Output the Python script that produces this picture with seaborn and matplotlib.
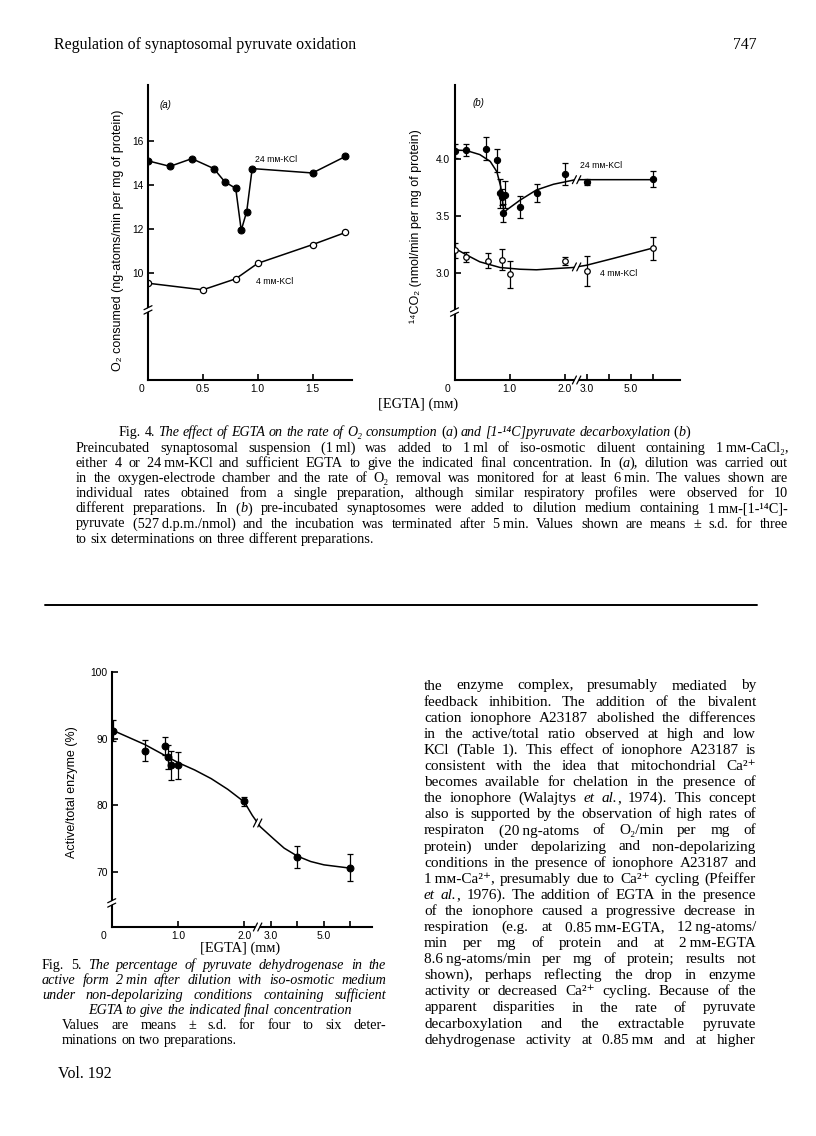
import numpy as np
import matplotlib
matplotlib.use("Agg")
import matplotlib.pyplot as plt
from matplotlib.lines import Line2D
from matplotlib.transforms import IdentityTransform
import seaborn as sns

# page size in pixels
W, H = 816, 1136

# Fig. 4(a): O2 consumption, single preparation
a_egta_24 = [0.0, 0.2, 0.4, 0.6, 0.7, 0.8, 0.85, 0.9, 0.95, 1.5, 1.8]
a_o2_24 = [15.1, 14.85, 15.2, 14.75, 14.15, 13.85, 11.95, 12.8, 14.75, 14.55, 15.3]
a_egta_4 = [0.0, 0.5, 0.8, 1.0, 1.5, 1.8]
a_o2_4 = [9.55, 9.25, 9.75, 10.45, 11.3, 11.85]

# Fig. 4(b): 14CO2 production, means +/- s.d.
b_egta_24 = [0.0, 0.2, 0.57, 0.78, 0.83, 0.86, 0.92, 0.89, 1.19, 1.5, 2.0, 3.0, 6.0]
b_co2_24 = [4.07, 4.08, 4.09, 3.99, 3.70, 3.67, 3.69, 3.53, 3.58, 3.70, 3.87, 3.80, 3.83]
b_sd_24 = [0.06, 0.05, 0.10, 0.10, 0.13, 0.07, 0.12, 0.08, 0.10, 0.08, 0.10, 0.03, 0.07]
b_egta_4 = [0.0, 0.2, 0.6, 0.86, 1.0, 2.0, 3.0, 6.0]
b_co2_4 = [3.20, 3.14, 3.11, 3.12, 2.99, 3.11, 3.02, 3.22]
b_sd_4 = [0.065, 0.045, 0.065, 0.09, 0.12, 0.035, 0.13, 0.10]
# hand-drawn fitted curves
b_fit24_x = [0.0, 0.22, 0.46, 0.65, 0.77, 0.84, 0.9, 0.95, 1.19, 1.49, 1.8, 2.0, 2.5, 3.0, 6.0]
b_fit24_y = [4.08, 4.075, 4.04, 3.98, 3.89, 3.76, 3.53, 3.555, 3.64, 3.73, 3.78, 3.80, 3.82, 3.82, 3.82]
b_fit4_x = [0.0, 0.22, 0.46, 0.83, 1.19, 1.49, 1.8, 2.38, 3.0, 4.22, 6.0]
b_fit4_y = [3.22, 3.16, 3.10, 3.05, 3.035, 3.03, 3.04, 3.05, 3.07, 3.13, 3.22]

# Fig. 5: active/total pyruvate dehydrogenase
f5_egta = [0.02, 0.5, 0.8, 0.85, 0.9, 1.0, 2.0, 4.0, 6.0]
f5_active = [91.2, 88.2, 88.9, 87.3, 86.0, 86.0, 80.6, 72.3, 70.7]
f5_sd = [1.5, 1.55, 1.3, 1.8, 2.2, 2.0, 0.7, 1.6, 2.0]
f5_fit_x = [0.0, 0.5, 1.0, 1.25, 1.5, 1.75, 2.0, 2.3, 2.6, 3.1, 3.5, 4.0, 4.5, 5.0, 6.0]
f5_fit_y = [91.3, 89.1, 86.4, 85.3, 84.0, 82.4, 80.5, 78.5, 76.8, 75.0, 73.6, 72.4, 71.6, 71.1, 70.6]

SERIF = ["Liberation Serif", "DejaVu Serif", "DejaVu Sans"]
SANS = ["Liberation Sans", "DejaVu Sans"]

sns.set_style("ticks", {"axes.edgecolor": "black", "text.color": "black",
                        "xtick.color": "black", "ytick.color": "black",
                        "axes.labelcolor": "black"})
plt.rcParams["font.family"] = SANS

fig = plt.figure(figsize=(W / 100, H / 100), dpi=100)
fig.patch.set_facecolor("white")
renderer = fig.canvas.get_renderer()


def make_axes(x0, x1, y0, y1):
    ax = fig.add_axes([x0 / W, 1 - y1 / H, (x1 - x0) / W, (y1 - y0) / H])
    ax.set_facecolor("none")
    sns.despine(ax=ax)
    for side in ["left", "bottom"]:
        ax.spines[side].set_linewidth(1.5)
    ax.tick_params(direction="in", length=4, width=1.2, labelsize=7.4, pad=3)
    return ax


# broken x scale: 0-2 mM linear, compressed above 2 mM
def fwd(x):
    x = np.asarray(x, dtype=float)
    return np.where(x <= 2, x, 2 + 0.4 * (x - 2))


def inv(t):
    t = np.asarray(t, dtype=float)
    return np.where(t <= 2, t, 2 + (t - 2) / 0.4)


def slashes(ax, x, y, spine="x", size=4.0, sep=2.2):
    px, py = ax.transData.transform((x, y))
    if spine == "y":
        d = np.array([size, size * 0.5])
        o = np.array([0.0, sep])
    else:
        d = np.array([size * 0.5, size])
        o = np.array([sep, 0.0])
    c = np.array([px, py])
    idt = IdentityTransform()
    fig.add_artist(Line2D([c[0] - d[0], c[0] + d[0]], [c[1] - d[1], c[1] + d[1]],
                          transform=idt, color="white", lw=2.4, zorder=6))
    for s in (-1, 1):
        p = c + s * o
        fig.add_artist(Line2D([p[0] - d[0], p[0] + d[0]], [p[1] - d[1], p[1] + d[1]],
                              transform=idt, color="black", lw=0.9, zorder=7))


def zero_label(ax, dx):
    ax.annotate("0", xy=(0, 0), xycoords=("data", "axes fraction"),
                xytext=(dx, -3), textcoords="offset points",
                ha="center", va="top", fontsize=7.4)


def page_text(x, y, s, size, family=SANS, **kw):
    return fig.text(x / W, 1 - y / H, s, fontsize=size, family=family, **kw)


# ---------------- Fig. 4(a) ----------------
ax_a = make_axes(148, 352, 85, 380)
sns.lineplot(x=a_egta_24, y=a_o2_24, ax=ax_a, sort=False, estimator=None,
             color="black", lw=1.1, marker="o", markersize=5,
             markerfacecolor="black", markeredgecolor="black")
sns.lineplot(x=a_egta_4, y=a_o2_4, ax=ax_a, sort=False, estimator=None,
             color="black", lw=1.1, marker="o", markersize=4.5,
             markerfacecolor="white", markeredgecolor="black", markeredgewidth=0.9)
ax_a.set_xlim(0, 1.86)
ax_a.set_ylim(5.16, 18.54)
ax_a.set_xticks([0, 0.5, 1.0, 1.5], ["", "0.5", "1.0", "1.5"])
ax_a.set_yticks([10, 12, 14, 16], ["10", "12", "14", "16"])
ax_a.set_xlabel("")
ax_a.set_ylabel("O₂ consumed (ng-atoms/min per mg of protein)", fontsize=9)
ax_a.yaxis.set_label_coords(-0.118, 0.475)
zero_label(ax_a, -5)
slashes(ax_a, 0, 8.34, spine="y")

# ---------------- Fig. 4(b) ----------------
ax_b = make_axes(454.5, 680, 85, 380)
sns.lineplot(x=b_fit24_x, y=b_fit24_y, ax=ax_b, sort=False, estimator=None,
             color="black", lw=1.1)
sns.lineplot(x=b_fit4_x, y=b_fit4_y, ax=ax_b, sort=False, estimator=None,
             color="black", lw=1.1)
ax_b.errorbar(b_egta_24, b_co2_24, yerr=b_sd_24, fmt="none", ecolor="black",
              elinewidth=0.9, capsize=2.2, capthick=0.9, zorder=2.5)
ax_b.errorbar(b_egta_4, b_co2_4, yerr=b_sd_4, fmt="none", ecolor="black",
              elinewidth=0.9, capsize=2.2, capthick=0.9, zorder=2.5)
sns.scatterplot(x=b_egta_24, y=b_co2_24, ax=ax_b, s=20, color="black",
                edgecolor="black", linewidth=0.8, zorder=3)
sns.scatterplot(x=b_egta_4, y=b_co2_4, ax=ax_b, s=16, color="white",
                edgecolor="black", linewidth=0.9, zorder=3)
ax_b.set_xscale("function", functions=(fwd, inv))
ax_b.set_xlim(0, 7.25)
ax_b.set_ylim(2.064, 4.65)
ax_b.set_xticks([0, 1, 2, 3, 4, 5, 6], ["", "1.0", "2.0", "3.0", "", "5.0", ""])
ax_b.set_yticks([3.0, 3.5, 4.0], ["3.0", "3.5", "4.0"])
ax_b.set_xlabel("")
ax_b.set_ylabel("¹⁴CO₂ (nmol/min per mg of protein)", fontsize=9)
ax_b.yaxis.set_label_coords(-0.144, 0.522)
zero_label(ax_b, -5)
slashes(ax_b, 0, 2.66, spine="y")
slashes(ax_b, 2.55, 2.064, spine="x")
slashes(ax_b, 2.55, float(np.interp(2.55, b_fit24_x, b_fit24_y)), spine="x")
slashes(ax_b, 2.55, float(np.interp(2.55, b_fit4_x, b_fit4_y)), spine="x")

# panel and curve labels
page_text(165, 105, "(a)", 7, ha="center", va="center", style="italic")
page_text(478, 103, "(b)", 7, ha="center", va="center", style="italic")
page_text(255, 159, "24 mᴍ-KCl", 6.2, ha="left", va="center")
page_text(256, 281, "4 mᴍ-KCl", 6.2, ha="left", va="center")
page_text(580, 165, "24 mᴍ-KCl", 6.2, ha="left", va="center")
page_text(600, 273, "4 mᴍ-KCl", 6.2, ha="left", va="center")
page_text(418, 404, "[EGTA] (mᴍ)", 10.4, family=SERIF, ha="center", va="center")

# ---------------- Fig. 5 ----------------
ax_5 = make_axes(111.7, 371.7, 671.7, 927)
sns.lineplot(x=f5_fit_x, y=f5_fit_y, ax=ax_5, sort=False, estimator=None,
             color="black", lw=1.1)
ax_5.errorbar(f5_egta, f5_active, yerr=f5_sd, fmt="none", ecolor="black",
              elinewidth=0.9, capsize=2.2, capthick=0.9, zorder=2.5)
sns.scatterplot(x=f5_egta, y=f5_active, ax=ax_5, s=24, color="black",
                edgecolor="black", linewidth=0.8, zorder=3)
ax_5.set_xscale("function", functions=(fwd, inv))
ax_5.set_xlim(0, 6.8)
ax_5.set_ylim(61.8, 100)
ax_5.set_xticks([0, 1, 2, 3, 4, 5, 6], ["", "1.0", "2.0", "3.0", "", "5.0", ""])
ax_5.set_yticks([70, 80, 90, 100], ["70", "80", "90", "100"])
ax_5.set_xlabel("")
ax_5.set_ylabel("Active/total enzyme (%)", fontsize=9)
ax_5.yaxis.set_label_coords(-0.13, 0.529)
zero_label(ax_5, -6)
slashes(ax_5, 0, 65.4, spine="y")
slashes(ax_5, 2.5, 61.8, spine="x")
slashes(ax_5, 2.5, float(np.interp(2.5, f5_fit_x, f5_fit_y)), spine="x")
page_text(240, 948, "[EGTA] (mᴍ)", 10.4, family=SERIF, ha="center", va="center")


# ---------------- running text ----------------
def space_width(size):
    a = fig.text(0, 0, "n n", fontsize=size, family=SERIF)
    b = fig.text(0, 0, "nn", fontsize=size, family=SERIF)
    w = a.get_window_extent(renderer).width - b.get_window_extent(renderer).width
    a.remove()
    b.remove()
    return w


def build_words(line, base, size):
    italic = False
    words = []
    for word in line.split(" "):
        pieces = []
        for i, part in enumerate(word.split("*")):
            if i > 0:
                italic = not italic
            if part:
                t = fig.text(0, 1 - base / H, part, fontsize=size, family=SERIF,
                             style="italic" if italic else "normal",
                             va="baseline", ha="left")
                pieces.append((t, t.get_window_extent(renderer).width))
        words.append(pieces)
    return words


def write_line(line, x0, x1, base, size, justify=True):
    words = build_words(line, base, size)
    total = sum(w for p in words for _, w in p)
    n = len(words)
    if justify and n > 1:
        min_gap = 0.6 * space_width(size)
        if total + (n - 1) * min_gap > x1 - x0:
            # too long for the measure: shrink the type slightly
            for p in words:
                for t, _ in p:
                    t.remove()
            size = size * (x1 - x0 - (n - 1) * min_gap) / total
            words = build_words(line, base, size)
            total = sum(w for p in words for _, w in p)
        gap = (x1 - x0 - total) / (n - 1)
    else:
        gap = space_width(size)
    x = x0
    for pieces in words:
        for t, w in pieces:
            t.set_x(x / W)
            x += w
        x += gap


fig.text(54 / W, 1 - 49 / H, "Regulation of synaptosomal pyruvate oxidation",
         fontsize=11.4, family=SERIF, va="baseline")
fig.text(757 / W, 1 - 49 / H, "747", fontsize=11.4, family=SERIF,
         va="baseline", ha="right")

fig4_title = ("Fig. 4. *The effect of EGTA on the rate of O₂ consumption* (*a*) "
              "*and [1-¹⁴C]pyruvate decarboxylation* (*b*)")
fig4_body = [
    "Preincubated synaptosomal suspension (1\u2009ml) was added to 1\u2009ml of iso-osmotic diluent containing 1\u2009mᴍ-CaCl₂,",
    "either 4 or 24\u2009mᴍ-KCl and sufficient EGTA to give the indicated final concentration. In (*a*), dilution was carried out",
    "in the oxygen-electrode chamber and the rate of O₂ removal was monitored for at least 6\u2009min. The values shown are",
    "individual rates obtained from a single preparation, although similar respiratory profiles were observed for 10",
    "different preparations. In (*b*) pre-incubated synaptosomes were added to dilution medium containing 1\u2009mᴍ-[1-¹⁴C]-",
    "pyruvate (527\u2009d.p.m./nmol) and the incubation was terminated after 5\u2009min. Values shown are means ± s.d. for three",
    "to six determinations on three different preparations.",
]
write_line(fig4_title, 119, 700, 436, 10.1, justify=False)
for k, line in enumerate(fig4_body):
    write_line(line, 76, 788, 452 + 15.1 * k, 10.3, justify=k < len(fig4_body) - 1)

fig.add_artist(Line2D([45 / W, 757 / W], [1 - 605 / H] * 2, color="black", lw=1.4))

column = [
    "the enzyme complex, presumably mediated by",
    "feedback inhibition. The addition of the bivalent",
    "cation ionophore A23187 abolished the differences",
    "in the active/total ratio observed at high and low",
    "KCl (Table 1). This effect of ionophore A23187 is",
    "consistent with the idea that mitochondrial Ca²⁺",
    "becomes available for chelation in the presence of",
    "the ionophore (Walajtys *et al.*, 1974). This concept",
    "also is supported by the observation of high rates of",
    "respiraton (20\u2009ng-atoms of O₂/min per mg of",
    "protein) under depolarizing and non-depolarizing",
    "conditions in the presence of ionophore A23187 and",
    "1\u2009mᴍ-Ca²⁺, presumably due to Ca²⁺ cycling (Pfeiffer",
    "*et al.*, 1976). The addition of EGTA in the presence",
    "of the ionophore caused a progressive decrease in",
    "respiration (e.g. at 0.85\u2009mᴍ-EGTA, 12\u2009ng-atoms/",
    "min per mg of protein and at 2\u2009mᴍ-EGTA",
    "8.6\u2009ng-atoms/min per mg of protein; results not",
    "shown), perhaps reflecting the drop in enzyme",
    "activity or decreased Ca²⁺ cycling. Because of the",
    "apparent disparities in the rate of pyruvate",
    "decarboxylation and the extractable pyruvate",
    "dehydrogenase activity at 0.85\u2009mᴍ and at higher",
]
for k, line in enumerate(column):
    write_line(line, 424, 756, 689.5 + 16.1 * k, 11.0)

write_line("Fig. 5. *The percentage of pyruvate dehydrogenase in the*", 42, 386, 969, 10.2)
write_line("*active form 2\u2009min after dilution with iso-osmotic medium*", 42, 386, 984, 10.2)
write_line("*under non-depolarizing conditions containing sufficient*", 42, 386, 999, 10.2)
write_line("*EGTA to give the indicated final concentration*", 88, 386, 1014, 10.2, justify=False)
write_line("Values are means ± s.d. for four to six deter-", 62, 386, 1029, 10.2)
write_line("minations on two preparations.", 62, 386, 1044, 10.2, justify=False)
fig.text(58 / W, 1 - 1078 / H, "Vol. 192", fontsize=11.4, family=SERIF, va="baseline")

fig.savefig("out.png", dpi=100, facecolor="white")
